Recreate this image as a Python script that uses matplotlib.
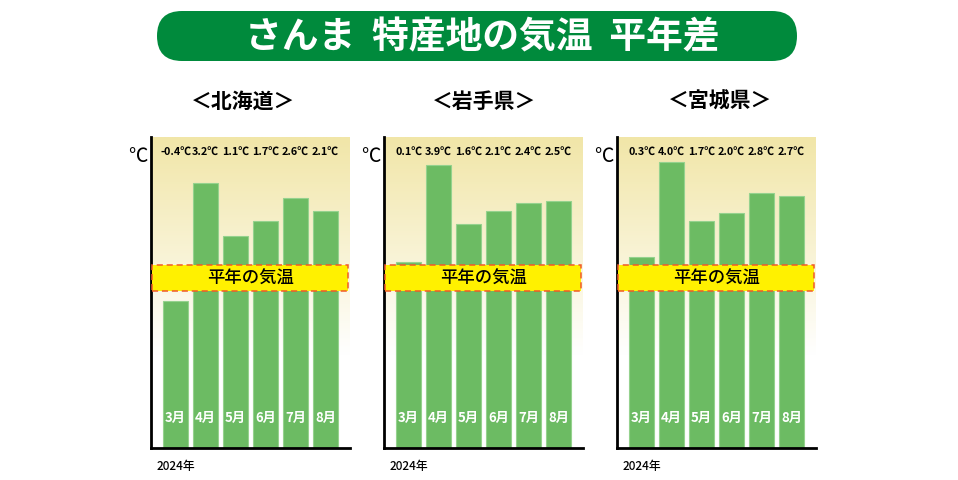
import numpy as np
import matplotlib
matplotlib.use('Agg')
import matplotlib.pyplot as plt
from matplotlib.patches import FancyBboxPatch, Rectangle
from matplotlib.colors import LinearSegmentedColormap

plt.rcParams['font.family'] = ['Noto Sans CJK JP', 'DejaVu Sans']

# data
title = 'さんま 特産地の気温 平年差'
regions = ['＜北海道＞', '＜岩手県＞', '＜宮城県＞']
months = ['3月', '4月', '5月', '6月', '7月', '8月']
hokkaido = [-0.4, 3.2, 1.1, 1.7, 2.6, 2.1]
iwate = [0.1, 3.9, 1.6, 2.1, 2.4, 2.5]
miyagi = [0.3, 4.0, 1.7, 2.0, 2.8, 2.7]
year_label = '2024年'
band_label = '平年の気温'

W, H = 958, 481
fig = plt.figure(figsize=(W / 100, H / 100), dpi=100)

# overlay in pixel coords for the title block
over = fig.add_axes([0, 0, 1, 1])
over.set_xlim(0, W)
over.set_ylim(H, 0)
over.axis('off')
box = FancyBboxPatch((157, 12), 640, 50, boxstyle='round,pad=0,rounding_size=25',
                     facecolor='#008a3c', edgecolor='none')
over.add_patch(box)
over.text(482, 38, title.replace(' ', '  '), color='white', fontsize=26.5,
          fontweight='bold', ha='center', va='center')
for cx, name in zip([243, 484, 720], regions):
    over.text(cx, 101, name, fontsize=15, fontweight='bold', ha='center', va='center')

ymin, ymax = -7.2, 5.0
band_lo, band_hi = -1.05, -0.03
grad = LinearSegmentedColormap.from_list(
    'g', [(0, '#ffffff'), (0.3, '#ffffff'), (0.6, '#f9f4d8'), (1, '#f1e6a8')])

lefts = [151, 384, 617]
for left, vals in zip(lefts, [hokkaido, iwate, miyagi]):
    ax = fig.add_axes([left / W, (H - 449) / H, 199 / W, 311 / H])
    ax.set_zorder(1)
    x = np.arange(len(months))
    ax.set_xlim(-0.82, 5.82)
    ax.set_ylim(ymin, ymax)

    g = np.linspace(0, 1, 256).reshape(-1, 1)
    ax.imshow(g, cmap=grad, aspect='auto', extent=[-0.82, 5.82, ymin, ymax],
              origin='lower', zorder=0)

    vals = np.array(vals)
    tops = np.where(vals >= 0, vals, vals + band_lo)
    ax.bar(x, tops - ymin, bottom=ymin, width=0.83, color='#6cbb63',
           edgecolor='#95d28e', linewidth=0.8, zorder=2)

    ax.add_patch(Rectangle((-0.8, band_lo), 6.55, band_hi - band_lo,
                           facecolor='#fff100', edgecolor='#f05a28',
                           linestyle=(0, (4, 2.5)), linewidth=1.1, zorder=3))
    ax.text(2.5, (band_lo + band_hi) / 2, band_label, fontsize=12.5,
            fontweight='medium', ha='center', va='center', zorder=4)

    for xi, v, m in zip(x, vals, months):
        ax.text(xi, 4.45, f'{v:.1f}℃', fontsize=7.8, fontweight='bold',
                ha='center', va='center', zorder=4)
        ax.text(xi, -6.0, m, fontsize=9.5, fontweight='bold', color='white',
                ha='center', va='center', zorder=4)

    ax.text(-0.065, 0.939, '℃', transform=ax.transAxes, fontsize=14,
            ha='center', va='center')
    ax.text(0.03, -0.055, year_label, transform=ax.transAxes, fontsize=8.5,
            fontweight='medium', ha='left', va='center')

    for s in ['top', 'right']:
        ax.spines[s].set_visible(False)
    ax.spines['left'].set_linewidth(2)
    ax.spines['bottom'].set_linewidth(2)
    ax.set_xticks([])
    ax.set_yticks([])

fig.savefig('out.png', dpi=100)
